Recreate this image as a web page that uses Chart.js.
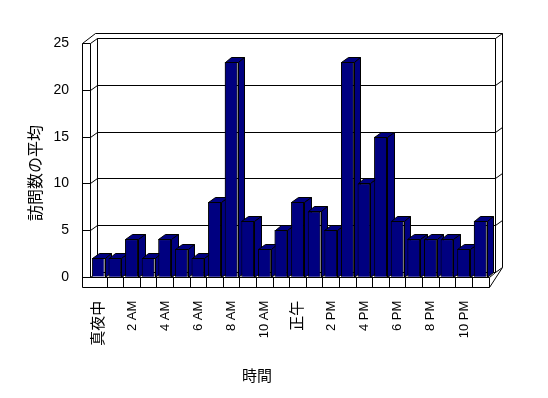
<!DOCTYPE html>
<html>
<head>
<meta charset="utf-8">
<script src="https://cdn.jsdelivr.net/npm/chart.js@4"></script>
<style>
  html, body { margin: 0; padding: 0; background: #fff; }
  #wrap { width: 548px; height: 398px; }
</style>
</head>
<body>
<div id="wrap"><canvas id="chart"></canvas></div>
<script>
// datos
const horas = ['真夜中', '1 AM', '2 AM', '3 AM', '4 AM', '5 AM', '6 AM', '7 AM', '8 AM', '9 AM', '10 AM', '11 AM',
               '正午', '1 PM', '2 PM', '3 PM', '4 PM', '5 PM', '6 PM', '7 PM', '8 PM', '9 PM', '10 PM', '11 PM'];
const visitas = [2, 2, 4, 2, 4, 3, 2, 8, 23, 6, 3, 5, 8, 7, 5, 23, 10, 15, 6, 4, 4, 4, 3, 6];
const yTicks = [0, 5, 10, 15, 20, 25];
const tituloY = '訪問数の平均';
const tituloX = '時間';

const DX = 6.6, DY = -5;   // profundidad 3D
const WALL = 8, FLOOR = 10;
const navy = '#000080';
const fam = "'Liberation Sans', 'Noto Sans CJK JP', sans-serif";

const px = v => Math.round(v) + 0.5;

function line(ctx, pts) {
    ctx.beginPath();
    ctx.moveTo(px(pts[0][0]), px(pts[0][1]));
    for (let i = 1; i < pts.length; i++) ctx.lineTo(px(pts[i][0]), px(pts[i][1]));
    ctx.stroke();
}
function poly(ctx, pts, fill) {
    ctx.beginPath();
    ctx.moveTo(px(pts[0][0]), px(pts[0][1]));
    for (let i = 1; i < pts.length; i++) ctx.lineTo(px(pts[i][0]), px(pts[i][1]));
    ctx.closePath();
    ctx.fillStyle = fill;
    ctx.fill();
    ctx.stroke();
}

// paredes, suelo y rejilla del fondo
const walls3d = {
    id: 'walls3d',
    beforeDatasetsDraw(chart) {
        const ctx = chart.ctx;
        const { left: L, right: R, top: T, bottom: B } = chart.chartArea;
        const ys = chart.scales.y;
        ctx.save();
        ctx.strokeStyle = '#000';
        ctx.lineWidth = 1;
        // pared del fondo
        poly(ctx, [[L + DX, T + DY], [R + DX, T + DY], [R + DX, B + DY], [L + DX, B + DY]], '#fff');
        yTicks.forEach(v => {
            const y = ys.getPixelForValue(v);
            line(ctx, [[L + DX, y + DY], [R + DX, y + DY]]);
            // pared izquierda
            line(ctx, [[L - WALL, y], [L, y], [L + DX, y + DY]]);
            // canto derecho
            line(ctx, [[R + DX, y + DY], [R + 2 * DX, y + 2 * DY]]);
        });
        line(ctx, [[L - WALL, T], [L - WALL, B + FLOOR]]);
        line(ctx, [[L, T], [L, B]]);
        line(ctx, [[L - WALL, T], [L - WALL + 2 * DX, T + 2 * DY], [R + 2 * DX, T + 2 * DY],
                   [R + 2 * DX, B + 2 * DY], [R, B + FLOOR]]);
        // suelo
        line(ctx, [[L - WALL, B], [R, B], [R + DX, B + DY]]);
        line(ctx, [[L - WALL, B + FLOOR], [R, B + FLOOR], [R, B]]);
        const step = (R - L) / horas.length;
        for (let i = 1; i < horas.length; i++) {
            const x = L + i * step;
            line(ctx, [[x, B], [x, B + FLOOR]]);
        }
        ctx.restore();
    },
    afterDatasetsDraw(chart) {
        const ctx = chart.ctx;
        const meta = chart.getDatasetMeta(0);
        ctx.save();
        ctx.strokeStyle = '#000';
        ctx.lineWidth = 1;
        meta.data.forEach((bar, i) => {
            const { x, y, base, width } = bar.getProps(['x', 'y', 'base', 'width'], true);
            const l = x - width / 2, r = x + width / 2;
            poly(ctx, [[l, y], [r, y], [r + DX, y + DY], [l + DX, y + DY]], navy);
            poly(ctx, [[r, y], [r + DX, y + DY], [r + DX, base + DY], [r, base]], navy);
            if (meta.data[i + 1]) meta.data[i + 1].draw(ctx, chart.chartArea);
        });
        ctx.restore();
    },
    afterDraw(chart) {
        const ctx = chart.ctx;
        ctx.save();
        ctx.fillStyle = '#000';
        ctx.textAlign = 'center';
        ctx.textBaseline = 'middle';
        ctx.font = "15px 'Noto Sans CJK JP'";
        ctx.fillText(tituloX, 257, 375);
        ctx.translate(35, 173);
        ctx.rotate(-Math.PI / 2);
        ctx.font = "16px 'Noto Sans CJK JP'";
        ctx.fillText(tituloY, 0, 0);
        ctx.restore();
    }
};

new Chart(document.getElementById('chart'), {
    type: 'bar',
    data: {
        labels: horas,
        datasets: [{
            data: visitas,
            backgroundColor: navy,
            borderColor: '#000',
            borderWidth: 1,
            barPercentage: 0.77,
            categoryPercentage: 1.0
        }]
    },
    options: {
        responsive: true,
        maintainAspectRatio: false,
        animation: false,
        layout: { padding: { left: 0, right: 59.5, top: 43.4, bottom: 0 } },
        plugins: {
            legend: { display: false },
            tooltip: { enabled: false }
        },
        scales: {
            x: {
                grid: { display: false, drawTicks: false },
                border: { display: false },
                afterFit: s => { s.height = 121.3; },
                ticks: {
                    autoSkip: false,
                    minRotation: 90,
                    maxRotation: 90,
                    padding: 24,
                    labelOffset: 0.5,
                    color: '#000',
                    font: c => ({ family: fam, size: /[^\x00-\x7f]/.test(horas[c.index] || '') ? 15 : 13 }),
                    callback: (v, i) => (i % 2 === 0 ? horas[i] : '')
                }
            },
            y: {
                min: 0,
                max: 25,
                grid: { display: false, drawTicks: false },
                border: { display: false },
                afterFit: s => { s.width = 90; },
                afterBuildTicks: s => { s.ticks = yTicks.map(v => ({ value: v })); },
                ticks: {
                    padding: 21,
                    color: '#000',
                    font: { family: fam, size: 14 }
                }
            }
        }
    },
    plugins: [walls3d]
});
</script>
</body>
</html>
